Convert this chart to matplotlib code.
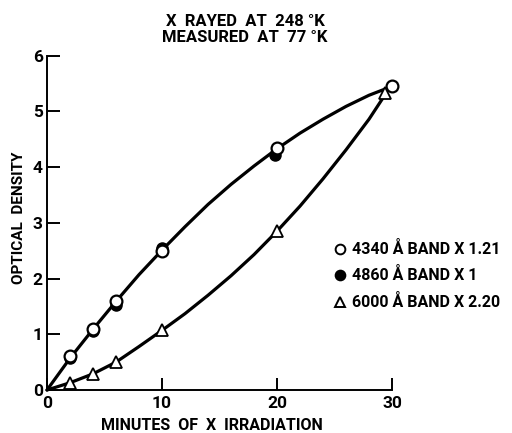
import matplotlib
matplotlib.use("Agg")
import matplotlib.pyplot as plt
from matplotlib.lines import Line2D

plt.rcParams['font.family'] = ['Roboto', 'DejaVu Sans']
plt.rcParams['font.weight'] = 'bold'
plt.rcParams['axes.labelweight'] = 'bold'

# measured points (minutes, optical density)
minutes = [2, 4, 6, 10, 20, 30]
od_4340 = [0.61, 1.10, 1.60, 2.50, 4.35, 5.45]
minutes_4860 = [2, 4, 6, 10, 19.8]
od_4860 = [0.57, 1.05, 1.52, 2.55, 4.21]
minutes_6000 = [2, 4, 6, 10, 20, 29.4]
od_6000 = [0.12, 0.28, 0.50, 1.07, 2.85, 5.33]

# hand-drawn fit curves
upper_x = [0, 2, 4, 6, 8, 10, 12, 14, 16, 18, 20, 22, 24, 26, 28, 30]
upper_y = [0, 0.57, 1.09, 1.59, 2.07, 2.51, 2.93, 3.33, 3.69, 4.02, 4.33,
           4.61, 4.86, 5.09, 5.29, 5.45]
lower_x = [0, 2, 4, 6, 8, 10, 12, 14, 16, 18, 20, 22, 24, 26, 28, 29.4]
lower_y = [0, 0.13, 0.29, 0.50, 0.78, 1.07, 1.37, 1.70, 2.05, 2.43, 2.85,
           3.30, 3.79, 4.31, 4.86, 5.30]

legend_labels = ['4340 Å BAND X 1.21', '4860 Å BAND X 1', '6000 Å BAND X 2.20']

fig = plt.figure(figsize=(5.12, 4.33), dpi=100)
ax = fig.add_axes([47 / 512, 1 - 390 / 433, 345 / 512, 334.3 / 433])

ax.plot(upper_x, upper_y, color='black', lw=2.3, solid_capstyle='round',
        zorder=2, clip_on=False)
ax.plot(lower_x, lower_y, color='black', lw=2.3, solid_capstyle='round',
        zorder=2, clip_on=False)

h_filled, = ax.plot(minutes_4860, od_4860, 'o', ms=8, mfc='black', mec='black',
                    zorder=3, clip_on=False)
h_open, = ax.plot(minutes, od_4340, 'o', ms=8.5, mfc='white', mec='black',
                  mew=1.6, zorder=4, clip_on=False)
h_tri, = ax.plot(minutes_6000, od_6000, '^', ms=8.5, mfc='white', mec='black',
                 mew=1.3, zorder=4, clip_on=False)

ax.set_xlim(0, 30)
ax.set_ylim(0, 6)
ax.set_xticks([0, 10, 20, 30])
ax.set_yticks([0, 1, 2, 3, 4, 5, 6])
for s in ['top', 'right']:
    ax.spines[s].set_visible(False)
for s in ['left', 'bottom']:
    ax.spines[s].set_linewidth(1.4)
ax.tick_params(direction='in', length=9, width=1.4, labelsize=12.5)
ax.tick_params(axis='x', pad=4)
ax.tick_params(axis='y', pad=3)
for lbl in ax.get_xticklabels() + ax.get_yticklabels():
    lbl.set_fontweight('bold')

ax.set_xlabel('MINUTES  OF  X  IRRADIATION', fontsize=11.5)
ax.set_ylabel('OPTICAL  DENSITY', fontsize=11)
ax.xaxis.set_label_coords(0.478, -0.083)
ax.yaxis.set_label_coords(-0.06, 0.514)

fig.text(245 / 512, 1 - 21 / 433, 'X  RAYED  AT  248 °K', ha='center',
         va='center', fontsize=12)
fig.text(245 / 512, 1 - 38 / 433, 'MEASURED  AT  77 °K', ha='center',
         va='center', fontsize=12)

# legend rows
handles = [h_open, h_filled, h_tri]
row_y = [249, 275, 302]
for h, lab, yy in zip(handles, legend_labels, row_y):
    fig.add_artist(Line2D([340 / 512], [1 - yy / 433], marker=h.get_marker(),
                          ms=7, mfc=h.get_markerfacecolor(), mec='black',
                          mew=1.4, ls='none', transform=fig.transFigure))
    fig.text(352 / 512, 1 - yy / 433, lab, ha='left', va='center',
             fontsize=11.5)

fig.savefig('out.png', dpi=100)
